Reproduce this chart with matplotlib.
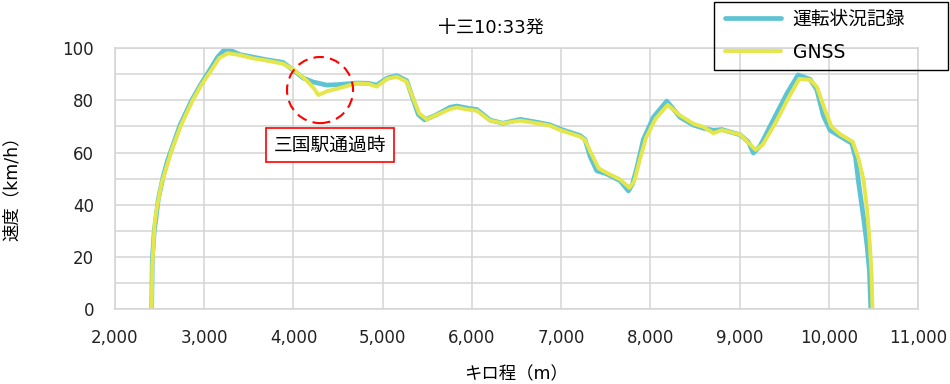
import matplotlib
matplotlib.use("Agg")
import matplotlib.pyplot as plt
from matplotlib.patches import Ellipse, Rectangle
from matplotlib.ticker import MultipleLocator, FuncFormatter

plt.rcParams["font.family"] = ["DejaVu Sans", "Noto Sans CJK JP"]

# 運転状況記録 (cyan)
rec_x = [2411, 2418, 2440, 2456, 2485, 2541, 2590, 2636, 2729, 2860, 2960, 3043, 3150, 3230,
         3300, 3400, 3550, 3700, 3883, 4000, 4110, 4220, 4373, 4500, 4709, 4840, 4933, 5050,
         5158, 5270, 5344, 5400, 5470, 5540, 5605, 5755, 5830, 5980, 6055, 6205, 6350, 6540,
         6727, 6876, 6988, 7212, 7268, 7325, 7400, 7512, 7661, 7754, 7800, 7848, 7922, 8034,
         8184, 8333, 8483, 8595, 8707, 8800, 9006, 9100, 9155, 9230, 9379, 9529, 9656, 9791,
         9866, 9940, 10015, 10127, 10258, 10300, 10335, 10388, 10426, 10455, 10471]
rec_y = [0, 19, 30, 34, 42, 51, 57, 61.5, 70.5, 80, 86, 90.5, 96.5, 99.5,
         99, 97.5, 96.5, 95.5, 94.5, 91.5, 88.5, 87, 85.8, 86, 86.6, 86.5, 85.8, 88.5,
         89.4, 87.5, 80, 74.5, 72.5, 73.5, 74.5, 77.3, 77.8, 76.8, 76.5, 72.4, 71.2, 72.7,
         71.6, 70.6, 69, 66.5, 65, 58.5, 53, 51.8, 49.2, 45.3, 48, 54, 65, 73.5,
         79.7, 73.5, 70.5, 69.3, 68.5, 68.8, 66.8, 64, 59.8, 62.5, 72.5, 82.5, 89.7, 88.0,
         84, 74, 68.5, 66.2, 63.5, 58, 48.3, 35.4, 25.3, 15, 0]

# GNSS (yellow)
gnss_x = [2411, 2418, 2445, 2470, 2523, 2636, 2740, 2870, 2970, 3060, 3170, 3267, 3400, 3550,
          3700, 3883, 4000, 4150, 4230, 4280, 4380, 4522, 4709, 4840, 4933, 5050, 5158, 5270,
          5344, 5410, 5494, 5605, 5755, 5830, 5980, 6055, 6205, 6350, 6540, 6727, 6876, 6988,
          7212, 7268, 7340, 7420, 7512, 7661, 7765, 7820, 7880, 7950, 8060, 8195, 8333, 8483,
          8595, 8707, 8800, 9006, 9120, 9180, 9260, 9400, 9550, 9670, 9791, 9866, 9960, 10030,
          10127, 10270, 10330, 10390, 10430, 10460, 10480, 10490]
gnss_y = [0, 17, 33, 39, 48.3, 61, 70.5, 80, 86, 90.5, 96.2, 98, 97.3, 96,
          95.2, 94, 91.8, 87.5, 84.5, 82, 83.5, 84.7, 86.5, 86.3, 85.2, 88.2, 89.0, 87.1,
          80.5, 75, 72.7, 74.4, 76.6, 77.2, 76.3, 76.0, 72.2, 71.2, 72.2, 71.2, 70.3, 68.6,
          66.1, 64.8, 59.5, 54.0, 52.2, 49.7, 46.5, 49, 57, 65.5, 73, 78.2, 74.2, 71,
          69.8, 67.4, 68.6, 66.9, 63, 61, 63, 71.2, 81, 88.2, 87.8, 85.2, 76, 69.9,
          67, 64.1, 58, 49.5, 38, 25, 13, 0]

title = "十三10:33発"
note = "三国駅通過時"
note_center = (4298, 83.9)

fig = plt.figure(figsize=(9.5, 3.84), dpi=100)
ax = fig.add_axes([115 / 950, 1 - 309.3 / 384, 803 / 950, 261.3 / 384])

ax.plot(rec_x, rec_y, color="#5EC4D3", lw=3.4, solid_capstyle="round",
        solid_joinstyle="round", label="運転状況記録")
ax.plot(gnss_x, gnss_y, color="#E4E64A", lw=2.8, solid_capstyle="round",
        solid_joinstyle="round", label="GNSS")

ax.set_xlim(2000, 11000)
ax.set_ylim(0, 100)
ax.xaxis.set_major_locator(MultipleLocator(1000))
ax.yaxis.set_major_locator(MultipleLocator(20))
ax.yaxis.set_minor_locator(MultipleLocator(10))
ax.xaxis.set_major_formatter(FuncFormatter(lambda v, p: f"{int(v):,}"))
ax.grid(True, which="both", color="#D4D4D4", lw=1.1)
ax.set_axisbelow(True)
for s in ax.spines.values():
    s.set_color("#D4D4D4")
    s.set_linewidth(1.1)
ax.tick_params(which="both", length=0, labelsize=12, colors="#222222")
ax.tick_params(axis="y", pad=15)
ax.tick_params(axis="x", pad=14)

ax.set_xlabel("キロ程（m）", fontsize=12.5)
ax.set_ylabel("速度（km/h）", fontsize=12.5)
ax.xaxis.set_label_coords(0.5, -0.215)
ax.yaxis.set_label_coords(-0.117, 0.48)

fig.text(491 / 950, 1 - 28 / 384, title, ha="center", va="center", fontsize=13)

ax.add_patch(Ellipse(note_center, 740, 25.3, fill=False, edgecolor="#FF0000", lw=1.5,
                     linestyle=(0, (5, 3)), clip_on=False, zorder=5))
ax.text(4410, 62.9, note, ha="center", va="center", fontsize=13.5, zorder=6,
        bbox=dict(boxstyle="square,pad=0.42", facecolor="white", edgecolor="#FF0000", lw=1.2))

fig.patches.append(Rectangle((713.7 / 950, 1 - 70 / 384), 234 / 950, 68 / 384,
                             transform=fig.transFigure, fill=False, edgecolor="black",
                             lw=1.0, figure=fig))
leg = ax.legend(loc="center left", bbox_to_anchor=(725 / 950, 1 - 36 / 384),
                bbox_transform=fig.transFigure, frameon=False, borderpad=0, borderaxespad=0,
                handlelength=3.0, handletextpad=0.6, labelspacing=0.75, fontsize=13.5)

fig.savefig("out.png", dpi=100)
